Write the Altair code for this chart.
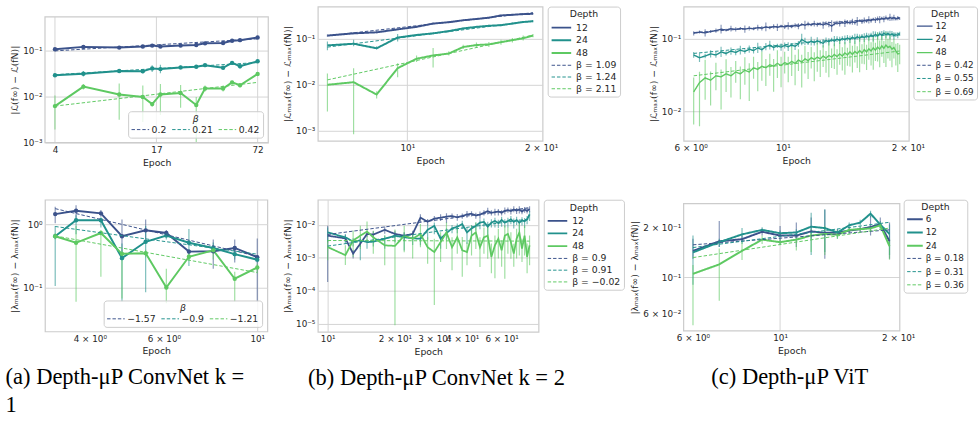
import math
import altair as alt
import pandas as pd

COLORS = ["#3b528b", "#21918c", "#5ec962"]
GRID = "#d4d4d4"
FRAME = "#cccccc"
TXT = "#262626"
FONT = "DejaVu Sans"

# ---------------- (a) ConvNet k=1, top: loss gap ----------------
A1_EPOCH = [4, 6, 10, 14, 16, 18, 24, 30, 34, 44, 50, 56, 72]
A1_NAMES = ["12", "24", "48"]
A1_B = [0.105, 0.118, 0.114, 0.120, 0.126, 0.120, 0.126, 0.130, 0.141, 0.143, 0.160, 0.165, 0.188]
A1_T = [0.0287, 0.031, 0.0354, 0.035, 0.0403, 0.039, 0.0424, 0.0437, 0.0474, 0.0417, 0.0531, 0.045, 0.0576]
A1_G = [0.00615, 0.01625, 0.011, 0.0097, 0.0068, 0.011, 0.0118, 0.0065, 0.0148, 0.0148, 0.0201, 0.0174, 0.0306]
A1_B_LO = [0.100, 0.110, 0.109, 0.114, 0.118, 0.114, 0.120, 0.124, 0.135, 0.137, 0.152, 0.158, 0.180]
A1_B_HI = [0.110, 0.126, 0.119, 0.126, 0.133, 0.127, 0.132, 0.136, 0.147, 0.149, 0.168, 0.172, 0.196]
A1_T_LO = [0.0269, 0.0269, 0.0327, 0.0316, 0.0338, 0.0316, 0.0384, 0.041, 0.0445, 0.0384, 0.0498, 0.0403, 0.0531]
A1_T_HI = [0.0311, 0.0354, 0.0384, 0.0384, 0.0474, 0.0482, 0.0467, 0.0467, 0.0506, 0.0452, 0.0568, 0.0506, 0.0625]
A1_G_LO = [0.00191, 0.0141, 0.00311, 0.00278, 0.00595, 0.00397, 0.00567, 0.001, 0.0128, 0.0128, 0.0185, 0.0157, 0.0287]
A1_G_HI = [0.0105, 0.0185, 0.0191, 0.0171, 0.0076, 0.0185, 0.0176, 0.0097, 0.0171, 0.0171, 0.0218, 0.0185, 0.0327]
A1_FIT_X = [4, 72]
A1_FIT_B = [0.0968, 0.1764]
A1_FIT_T = [0.0295, 0.054]
A1_FIT_G = [0.00616, 0.0201]
A1_BETAS = ["0.2", "0.21", "0.42"]

# ---------------- (a) ConvNet k=1, bottom: sharpness gap ----------------
A2_EPOCH = [3.31, 3.71, 4.25, 4.77, 5.43, 6.08, 6.88, 7.86, 8.84, 10.0]
A2_B = [1.46, 1.65, 1.50, 0.652, 0.808, 0.734, 0.373, 0.378, 0.426, 0.305]
A2_T = [0.652, 1.167, 1.167, 0.294, 0.533, 0.668, 0.514, 0.426, 0.34, 0.278]
A2_G = [0.652, 0.514, 0.734, 0.344, 0.352, 0.101, 0.309, 0.392, 0.139, 0.209]
A2_B_LO = [1.05, 1.18, 1.33, 0.32, 0.58, 0.65, 0.34, 0.20, 0.25, 0.06]
A2_B_HI = [1.90, 2.01, 1.69, 1.20, 1.20, 0.82, 0.41, 0.58, 0.58, 0.60]
A2_T_LO = [0.107, 0.70, 0.90, 0.06, 0.085, 0.58, 0.22, 0.36, 0.28, 0.25]
A2_T_HI = [0.95, 1.40, 1.30, 0.50, 0.95, 0.75, 0.85, 0.52, 0.40, 0.31]
A2_G_LO = [0.58, 0.06, 0.15, 0.068, 0.30, 0.057, 0.27, 0.28, 0.06, 0.17]
A2_G_HI = [0.73, 0.95, 0.82, 0.40, 0.40, 0.20, 0.36, 0.46, 0.18, 0.24]
A2_FIT_X = [3.31, 10.0]
A2_FIT_B = [1.78, 0.315]
A2_FIT_T = [0.93, 0.34]
A2_FIT_G = [0.66, 0.174]
A2_BETAS = ["\u22121.57", "\u22120.9", "\u22121.21"]

# ---------------- (b) ConvNet k=2, top ----------------
B1_EPOCH = [6.61, 7.57, 8.53, 9.51, 10.49, 11.43, 12.4, 13.36, 14.31, 15.26, 16.25, 17.24, 18.23, 19.18]
B1_B = [0.118, 0.132, 0.139, 0.161, 0.183, 0.216, 0.231, 0.255, 0.272, 0.290, 0.325, 0.336, 0.347, 0.353]
B1_T = [0.0721, 0.0782, 0.0622, 0.1068, 0.1217, 0.132, 0.148, 0.169, 0.183, 0.193, 0.199, 0.216, 0.234, 0.242]
B1_G = [0.00992, 0.0113, 0.00607, 0.0229, 0.0368, 0.0434, 0.0478, 0.0664, 0.0733, 0.0757, 0.0849, 0.0937, 0.103, 0.118]
B1_B_LO = [0.111, 0.126, 0.133, 0.154, 0.175, 0.207, 0.222, 0.245, 0.261, 0.279, 0.312, 0.323, 0.333, 0.339]
B1_B_HI = [0.125, 0.138, 0.145, 0.168, 0.191, 0.225, 0.240, 0.265, 0.283, 0.301, 0.338, 0.349, 0.361, 0.367]
B1_T_LO = [0.0563, 0.0686, 0.0582, 0.0877, 0.115, 0.125, 0.140, 0.160, 0.174, 0.183, 0.189, 0.205, 0.222, 0.230]
B1_T_HI = [0.0877, 0.0952, 0.0686, 0.128, 0.128, 0.139, 0.156, 0.178, 0.192, 0.203, 0.209, 0.227, 0.246, 0.254]
B1_G_LO = [0.00259, 0.00082, 0.005, 0.0145, 0.0313, 0.0237, 0.0434, 0.0602, 0.0664, 0.0664, 0.0744, 0.0835, 0.092, 0.108]
B1_G_HI = [0.0176, 0.0229, 0.00715, 0.0292, 0.0434, 0.0632, 0.0537, 0.0744, 0.0835, 0.0849, 0.0952, 0.105, 0.118, 0.128]
B1_FIT_X = [6.61, 19.18]
B1_FIT_B = [0.117, 0.373]
B1_FIT_T = [0.066, 0.247]
B1_FIT_G = [0.0127, 0.12]
B1_BETAS = ["\u03b2 = 1.09", "\u03b2 = 1.24", "\u03b2 = 2.11"]

# ---------------- (b) ConvNet k=2, bottom ----------------
B2_EPOCH = [10, 12, 13, 14, 15, 16, 18, 20, 22, 24, 26, 28, 30, 32, 34, 36, 38, 40, 42, 44,
            46, 48, 50, 52, 54, 56, 58, 60, 62, 64, 66, 68, 70, 72, 74, 76, 78, 80]
B2_B = [0.0047, 0.0039, 0.00135, 0.0027, 0.0053, 0.0051, 0.0071, 0.0053, 0.0047, 0.0053,
        0.0165, 0.0125, 0.0154, 0.0165, 0.0177, 0.0185, 0.0169, 0.0185, 0.0207, 0.0216,
        0.0193, 0.0202, 0.0232, 0.026, 0.0232, 0.0242, 0.0253, 0.0232, 0.0265, 0.0278,
        0.026, 0.0291, 0.027, 0.0291, 0.0253, 0.0291, 0.0265, 0.0305]
B2_T = [0.0059, 0.0042, 0.0031, 0.0034, 0.0030, 0.0031, 0.0038, 0.0047, 0.0042, 0.0039,
        0.0038, 0.0071, 0.0093, 0.0038, 0.0056, 0.0078, 0.0088, 0.0105, 0.0059, 0.0078,
        0.0093, 0.0117, 0.0123, 0.0088, 0.0117, 0.0131, 0.0113, 0.014, 0.0117, 0.0131,
        0.0147, 0.0123, 0.014, 0.0117, 0.0135, 0.0128, 0.0147, 0.0207]
B2_G = [0.00213, 0.00121, 0.00336, 0.0047, 0.0063, 0.0042, 0.0024, 0.0023, 0.0047, 0.0038,
        0.0053, 0.0021, 0.0015, 0.0030, 0.0059, 0.0021, 0.0042, 0.0017, 0.0015, 0.0047,
        0.0059, 0.0021, 0.0042, 0.0047, 0.00108, 0.0024, 0.0038, 0.0017, 0.0047, 0.0053,
        0.0030, 0.00135, 0.0038, 0.0059, 0.0019, 0.0047, 0.00108, 0.0024]
# error-bar extents in decades below / above each point
B2_B_DN = [1.4, 0.1, 0.15, 0.1, 0.1, 0.1, 0.12, 0.1, 0.15, 0.1, 0.15, 0.1, 0.08, 0.1, 0.2, 0.08, 0.1, 0.08, 0.1, 0.08,
           0.1, 0.12, 0.08, 0.1, 0.08, 0.1, 0.12, 0.08, 0.1, 0.08, 0.1, 0.08, 0.1, 0.12, 0.08, 0.1, 0.08, 0.1]
B2_B_UP = [0.3, 0.1, 0.1, 0.08, 0.1, 0.1, 0.1, 0.1, 0.1, 0.1, 0.1, 0.08, 0.08, 0.1, 0.1, 0.08, 0.1, 0.08, 0.1, 0.08,
           0.08, 0.1, 0.08, 0.1, 0.08, 0.1, 0.08, 0.08, 0.1, 0.08, 0.08, 0.1, 0.08, 0.1, 0.08, 0.08, 0.1, 0.08]
B2_T_DN = [0.3, 0.2, 0.15, 0.6, 0.2, 0.15, 0.3, 0.2, 0.4, 0.2, 0.2, 0.3, 0.25, 0.3, 0.2, 0.15, 0.2, 0.15, 0.35, 0.2,
           0.15, 0.2, 0.15, 0.25, 0.15, 0.2, 0.15, 0.2, 0.15, 0.2, 0.15, 0.2, 0.15, 0.25, 0.15, 0.2, 0.15, 0.2]
B2_T_UP = [0.15, 0.1, 0.1, 0.1, 0.1, 0.1, 0.1, 0.1, 0.15, 0.1, 0.1, 0.15, 0.1, 0.1, 0.15, 0.1, 0.1, 0.1, 0.15, 0.1,
           0.1, 0.1, 0.1, 0.15, 0.1, 0.1, 0.1, 0.1, 0.1, 0.1, 0.1, 0.1, 0.1, 0.1, 0.1, 0.1, 0.1, 0.1]
B2_G_DN = [0.4, 0.3, 0.5, 0.4, 0.3, 0.5, 0.6, 2.4, 0.5, 0.6, 0.4, 0.5, 1.6, 0.6, 0.5, 0.7, 0.5, 0.8, 0.4, 0.6,
           0.5, 0.6, 0.5, 0.7, 0.5, 1.0, 0.6, 0.5, 1.3, 0.6, 0.5, 0.4, 0.6, 0.7, 0.4, 0.6, 0.5, 0.6]
B2_G_UP = [0.2, 0.3, 0.3, 0.3, 0.3, 0.2, 0.3, 0.5, 0.3, 0.2, 0.3, 0.3, 0.4, 0.3, 0.3, 0.3, 0.3, 0.4, 0.3, 0.3,
           0.3, 0.3, 0.3, 0.3, 0.4, 0.3, 0.3, 0.3, 0.3, 0.2, 0.3, 0.3, 0.3, 0.3, 0.3, 0.3, 0.4, 0.3]
B2_FIT_X = [10, 80]
B2_FIT_B = [0.0051, 0.033]
B2_FIT_T = [0.00228, 0.0151]
B2_FIT_G = [0.00336, 0.00322]
B2_BETAS = ["\u03b2 = 0.9", "\u03b2 = 0.91", "\u03b2 = \u22120.02"]

# ---------------- (c) ViT, top ----------------
C1_EPOCH = [6.1, 6.3, 6.5, 6.7, 6.9, 7.1, 7.3, 7.5, 7.7, 7.9, 8.1, 8.3, 8.5, 8.7, 8.9, 9.1, 9.3, 9.5, 9.7, 9.9,
            10.1, 10.3, 10.5, 10.7, 10.9, 11.1, 11.3, 11.5, 11.7, 11.9, 12.1, 12.3, 12.5, 12.7, 12.9, 13.1, 13.3,
            13.5, 13.7, 13.9, 14.1, 14.3, 14.5, 14.7, 14.9, 15.1, 15.3, 15.5, 15.7, 15.9, 16.1, 16.3, 16.5, 16.7,
            16.9, 17.1, 17.3, 17.5, 17.7, 17.9, 18.1, 18.3, 18.5, 18.7, 18.9, 19.1]
C1_B = [0.119, 0.124, 0.121, 0.126, 0.130, 0.136, 0.132, 0.138, 0.135, 0.139, 0.136, 0.140, 0.137, 0.143, 0.140,
        0.146, 0.142, 0.148, 0.144, 0.149, 0.146, 0.151, 0.147, 0.153, 0.149, 0.158, 0.154, 0.160, 0.156, 0.162,
        0.157, 0.160, 0.155, 0.163, 0.158, 0.150, 0.160, 0.166, 0.162, 0.168, 0.164, 0.170, 0.165, 0.172, 0.167,
        0.174, 0.178, 0.172, 0.180, 0.175, 0.183, 0.178, 0.186, 0.181, 0.189, 0.184, 0.192, 0.186, 0.195, 0.188,
        0.198, 0.190, 0.196, 0.188, 0.193, 0.190]
C1_T = [0.060, 0.055, 0.058, 0.062, 0.060, 0.066, 0.063, 0.068, 0.065, 0.070, 0.067, 0.072, 0.069, 0.075, 0.071,
        0.078, 0.082, 0.076, 0.080, 0.077, 0.081, 0.078, 0.082, 0.079, 0.085, 0.098, 0.092, 0.088, 0.093, 0.089,
        0.094, 0.090, 0.087, 0.095, 0.091, 0.097, 0.093, 0.099, 0.095, 0.101, 0.097, 0.103, 0.098, 0.105, 0.100,
        0.107, 0.102, 0.109, 0.104, 0.111, 0.106, 0.113, 0.108, 0.115, 0.110, 0.118, 0.112, 0.120, 0.114, 0.119,
        0.113, 0.117, 0.110, 0.114, 0.112, 0.117]
C1_G = [0.0186, 0.025, 0.029, 0.027, 0.031, 0.030, 0.033, 0.031, 0.035, 0.033, 0.037, 0.035, 0.040, 0.038, 0.042,
        0.040, 0.044, 0.042, 0.046, 0.043, 0.047, 0.045, 0.049, 0.046, 0.051, 0.048, 0.053, 0.050, 0.055, 0.052,
        0.056, 0.053, 0.058, 0.054, 0.059, 0.056, 0.061, 0.057, 0.062, 0.058, 0.064, 0.060, 0.066, 0.061, 0.067,
        0.063, 0.069, 0.064, 0.071, 0.066, 0.073, 0.068, 0.075, 0.070, 0.077, 0.072, 0.080, 0.074, 0.082, 0.076,
        0.079, 0.072, 0.076, 0.068, 0.062, 0.063]
C1_B_E = [0.03, 0.02, 0.05, 0.02, 0.03, 0.06, 0.02, 0.04, 0.03, 0.02, 0.05, 0.03, 0.02, 0.04, 0.03, 0.06, 0.02,
          0.03, 0.05, 0.02, 0.03, 0.05, 0.02, 0.03, 0.04, 0.02, 0.06, 0.03, 0.02, 0.04, 0.03, 0.02, 0.05, 0.03,
          0.04, 0.08, 0.02, 0.03, 0.04, 0.02, 0.05, 0.03, 0.02, 0.04, 0.03, 0.06, 0.02, 0.03, 0.04, 0.02, 0.05,
          0.03, 0.02, 0.04, 0.03, 0.05, 0.02, 0.04, 0.03, 0.02, 0.05, 0.03, 0.04, 0.02, 0.03, 0.02]
C1_T_E = [0.04, 0.06, 0.03, 0.05, 0.04, 0.07, 0.03, 0.05, 0.04, 0.06, 0.03, 0.05, 0.04, 0.07, 0.03, 0.05, 0.06,
          0.04, 0.03, 0.05, 0.04, 0.06, 0.03, 0.05, 0.04, 0.08, 0.05, 0.03, 0.06, 0.04, 0.05, 0.03, 0.06, 0.04,
          0.05, 0.03, 0.07, 0.04, 0.05, 0.03, 0.06, 0.04, 0.05, 0.03, 0.07, 0.04, 0.05, 0.03, 0.06, 0.04, 0.05,
          0.03, 0.07, 0.04, 0.05, 0.03, 0.06, 0.04, 0.05, 0.03, 0.06, 0.04, 0.05, 0.03, 0.04, 0.03]
C1_G_DN = [0.45, 0.6, 0.3, 0.35, 0.2, 0.45, 0.25, 0.3, 0.15, 0.35, 0.2, 0.4, 0.15, 0.3, 0.2, 0.25, 0.15, 0.35,
           0.2, 0.3, 0.15, 0.25, 0.2, 0.3, 0.15, 0.35, 0.2, 0.25, 0.15, 0.3, 0.2, 0.25, 0.15, 0.2, 0.3, 0.15,
           0.2, 0.25, 0.15, 0.2, 0.3, 0.15, 0.2, 0.25, 0.15, 0.2, 0.3, 0.15, 0.2, 0.25, 0.15, 0.2, 0.3, 0.15,
           0.2, 0.25, 0.15, 0.2, 0.3, 0.15, 0.2, 0.25, 0.15, 0.2, 0.25, 0.15]
C1_G_UP = [0.2, 0.15, 0.25, 0.12, 0.18, 0.1, 0.2, 0.12, 0.15, 0.1, 0.18, 0.12, 0.15, 0.1, 0.2, 0.12, 0.15, 0.1,
           0.18, 0.12, 0.15, 0.1, 0.2, 0.12, 0.15, 0.1, 0.18, 0.12, 0.15, 0.1, 0.2, 0.12, 0.15, 0.1, 0.18, 0.12,
           0.15, 0.1, 0.2, 0.12, 0.15, 0.1, 0.18, 0.12, 0.15, 0.1, 0.2, 0.12, 0.15, 0.1, 0.18, 0.12, 0.15, 0.1,
           0.2, 0.12, 0.15, 0.1, 0.18, 0.12, 0.15, 0.1, 0.12, 0.1, 0.15, 0.12]
C1_FIT_X = [6.1, 19.1]
C1_FIT_B = [0.122, 0.197]
C1_FIT_T = [0.063, 0.118]
C1_FIT_G = [0.031, 0.068]
C1_BETAS = ["\u03b2 = 0.42", "\u03b2 = 0.55", "\u03b2 = 0.69"]

# ---------------- (c) ViT, bottom ----------------
C2_EPOCH = [6, 7, 8, 9, 10, 11, 12, 13, 14, 15, 16, 17, 18, 19]
C2_NAMES = ["6", "12", "24"]
C2_B = [0.145, 0.166, 0.171, 0.190, 0.180, 0.180, 0.191, 0.187, 0.188, 0.193, 0.197, 0.203, 0.211, 0.166]
C2_T = [0.142, 0.164, 0.183, 0.195, 0.186, 0.188, 0.204, 0.200, 0.188, 0.208, 0.216, 0.245, 0.210, 0.184]
C2_G = [0.105, 0.120, 0.145, 0.170, 0.164, 0.170, 0.180, 0.184, 0.182, 0.195, 0.197, 0.199, 0.208, 0.155]
C2_B_LO = [0.13, 0.153, 0.164, 0.18, 0.16, 0.153, 0.172, 0.13, 0.18, 0.185, 0.19, 0.18, 0.199, 0.13]
C2_B_HI = [0.172, 0.221, 0.18, 0.199, 0.206, 0.216, 0.232, 0.26, 0.197, 0.202, 0.205, 0.237, 0.232, 0.216]
C2_T_LO = [0.09, 0.153, 0.16, 0.19, 0.18, 0.18, 0.137, 0.143, 0.172, 0.199, 0.208, 0.232, 0.199, 0.137]
C2_T_HI = [0.18, 0.172, 0.2, 0.202, 0.193, 0.197, 0.248, 0.26, 0.197, 0.216, 0.225, 0.255, 0.221, 0.21]
C2_G_LO = [0.051, 0.072, 0.1275, 0.16, 0.157, 0.146, 0.143, 0.137, 0.172, 0.188, 0.19, 0.19, 0.2, 0.128]
C2_G_HI = [0.119, 0.15, 0.164, 0.18, 0.172, 0.18, 0.197, 0.206, 0.193, 0.201, 0.204, 0.206, 0.216, 0.172]
C2_FIT_X = [6, 19]
C2_FIT_B = [0.158, 0.195]
C2_FIT_T = [0.152, 0.217]
C2_FIT_G = [0.132, 0.200]
C2_BETAS = ["\u03b2 = 0.18", "\u03b2 = 0.31", "\u03b2 = 0.36"]

YT_L = "|\u2112(f\u221e) \u2212 \u2112(fN)|"
YT_LMAX = "|\u2112\u2098\u2090\u2093(f\u221e) \u2212 \u2112\u2098\u2090\u2093(fN)|"
YT_LAM = "|\u03bb\u2098\u2090\u2093(f\u221e) \u2212 \u03bb\u2098\u2090\u2093(fN)|"

CAP_FONT = "Liberation Serif"
CHANNELS = dict(color="independent", stroke="independent", fill="independent",
                strokeDash="independent", strokeWidth="independent")


def dec_bounds(vals, dn, up):
    lo = [v * 10 ** (-d) for v, d in zip(vals, dn)]
    hi = [v * 10 ** (u) for v, u in zip(vals, up)]
    return lo, hi


def lbl_expr(vals, labels):
    expr = repr(labels[-1])
    for i in range(len(vals) - 2, -1, -1):
        mid = math.sqrt(vals[i] * vals[i + 1])
        expr = f"datum.value < {mid:.10g} ? {labels[i]!r} : ({expr})"
    return expr


def grid_color(vals):
    if vals is None:
        return GRID
    test = " || ".join(f"abs(datum.value / {v} - 1) < 1e-6" for v in vals)
    return {"condition": {"test": test, "value": GRID}, "value": "rgba(0,0,0,0)"}


def panel(epochs, names, vals, los, his, fx, fvals, flabels, xdom, ydom,
          xt, xl, xg, yt, yl, yg, ytitle, w, h, lw, markers, legend, merged,
          title=None, top_pad=0.0):
    rows = []
    for n, v, lo, hi in zip(names, vals, los, his):
        for e, y, l, u in zip(epochs, v, lo, hi):
            rows.append(dict(epoch=e, val=y, lo=l, hi=u, name=n))
    df = pd.DataFrame(rows)
    frows = []
    for lab, fv in zip(flabels, fvals):
        for e, y in zip(fx, fv):
            frows.append(dict(epoch=e, val=y, name=lab))
    fdf = pd.DataFrame(frows)

    # optional empty band above the frame (so a panel can start lower than its row)
    ytop = ydom[1] * 10 ** (math.log10(ydom[1] / ydom[0]) * top_pad / h)
    xs = alt.Scale(type="log", domain=xdom, nice=False)
    ys = alt.Scale(type="log", domain=[ydom[0], ytop], nice=False)
    if top_pad > 0:
        xax = alt.Axis(title="Epoch", values=xt, labelExpr=lbl_expr(xt, xl), grid=False)
        yax = alt.Axis(title=ytitle, values=yt, labelExpr=lbl_expr(yt, yl), gridColor=grid_color(yg),
                       titleY=top_pad + h / 2)
    else:
        xax = alt.Axis(title="Epoch", values=xt, labelExpr=lbl_expr(xt, xl), gridColor=grid_color(xg))
        yax = alt.Axis(title=ytitle, values=yt, labelExpr=lbl_expr(yt, yl), gridColor=grid_color(yg))
    X = alt.X("epoch:Q", scale=xs, axis=xax)
    Y = alt.Y("val:Q", scale=ys, axis=yax)

    layers = []
    if top_pad > 0:
        gx = xg if xg is not None else xt
        gdf = pd.DataFrame({"epoch": gx, "lo": [ydom[0]] * len(gx), "hi": [ydom[1]] * len(gx)})
        layers.append(alt.Chart(gdf).mark_rule(color=GRID, strokeWidth=1).encode(
            x=X, y=alt.Y("lo:Q", scale=ys, axis=yax), y2="hi:Q"))

    layers.append(alt.Chart(df).mark_rule(strokeWidth=1.2, strokeOpacity=0.6, clip=True).encode(
        x=X, y=alt.Y("lo:Q", scale=ys, axis=yax), y2="hi:Q",
        stroke=alt.Stroke("name:N", scale=alt.Scale(domain=names, range=COLORS), legend=None)))

    if merged:
        dom = names + flabels
        col = alt.Color("name:N", scale=alt.Scale(domain=dom, range=COLORS + COLORS), legend=legend)
        dash = alt.StrokeDash("name:N", scale=alt.Scale(domain=dom, range=[[1, 0]] * 3 + [[3.5, 2]] * 3),
                              legend=legend)
        sw = alt.StrokeWidth("name:N", scale=alt.Scale(type="ordinal", domain=dom, range=[lw] * 3 + [1] * 3),
                             legend=legend)
        lines = alt.Chart(df).mark_line(clip=True).encode(x=X, y=Y, color=col, strokeDash=dash, strokeWidth=sw)
        fits = alt.Chart(fdf).mark_line(clip=True).encode(x=X, y=Y, color=col, strokeDash=dash, strokeWidth=sw)
    else:
        lines = alt.Chart(df).mark_line(clip=True, strokeWidth=lw).encode(
            x=X, y=Y, stroke=alt.Stroke("name:N", scale=alt.Scale(domain=names, range=COLORS), legend=None))
        fits = alt.Chart(fdf).mark_line(clip=True, strokeWidth=1, strokeDash=[3.5, 2]).encode(
            x=X, y=Y, color=alt.Color("name:N", scale=alt.Scale(domain=flabels, range=COLORS), legend=legend))
    layers.append(lines)
    if markers:
        layers.append(alt.Chart(df).mark_circle(size=20, opacity=1, clip=True).encode(
            x=X, y=Y, fill=alt.Fill("name:N", scale=alt.Scale(domain=names, range=COLORS), legend=None)))
    layers.append(fits)

    if top_pad > 0:
        fr = pd.DataFrame({"x1": [xdom[0]], "x2": [xdom[1]], "y1": [ydom[0]], "y2": [ydom[1]]})
        layers.append(alt.Chart(fr).mark_rect(fillOpacity=0, stroke=FRAME, strokeWidth=1.25).encode(
            x=alt.X("x1:Q", scale=xs, axis=xax), x2="x2:Q",
            y=alt.Y("y1:Q", scale=ys, axis=yax), y2="y2:Q"))

    ch = alt.layer(*layers).properties(width=w, height=h + top_pad)
    if top_pad > 0:
        ch = ch.properties(view=alt.ViewBackground(stroke="transparent"))
    if title is not None:
        ch = ch.properties(title=title)
    return ch


def leg_depth(compact=False):
    if compact:
        return alt.Legend(title="Depth", orient="right", offset=4, titleAnchor="middle",
                          symbolType="M-1,0H3", symbolSize=64, labelOffset=10, rowPadding=3.5,
                          titlePadding=3, labelFontSize=9, titleFontSize=9.5, padding=2.5)
    return alt.Legend(title="Depth", orient="right", offset=5, titleAnchor="middle",
                      symbolType="M-1,0H3", symbolSize=100, labelOffset=14, rowPadding=2,
                      titlePadding=3)


def leg_beta():
    return alt.Legend(title="\u03b2", orient="bottom-right", direction="horizontal", offset=5,
                      titleAnchor="middle", titleFontStyle="italic", symbolType="M-1,0H3",
                      symbolSize=81, symbolDash=[3.5, 2], symbolStrokeWidth=1, labelOffset=11,
                      columnPadding=2.5, titlePadding=1)


def caption(lines, dx):
    return alt.TitleParams(text=lines, orient="bottom", anchor="start", frame="group", dx=dx,
                           offset=11.5, font=CAP_FONT, fontSize=23, fontWeight="normal",
                           color="black", lineHeight=28)


def sp(w, h):
    return alt.Chart(pd.DataFrame({"v": [1]})).mark_point(opacity=0, size=1).encode(
        x=alt.X("v:Q", axis=None), y=alt.Y("v:Q", axis=None)
    ).properties(width=w, height=h, view=alt.ViewBackground(stroke="transparent"))


DEC3 = ["10\u207b\u00b3", "10\u207b\u00b2", "10\u207b\u00b9"]

a_top = panel(A1_EPOCH, A1_NAMES, [A1_B, A1_T, A1_G], [A1_B_LO, A1_T_LO, A1_G_LO],
              [A1_B_HI, A1_T_HI, A1_G_HI], A1_FIT_X, [A1_FIT_B, A1_FIT_T, A1_FIT_G], A1_BETAS,
              [3.47, 83.8], [1e-3, 0.525], [4, 17, 72], ["4", "17", "72"], None,
              [1e-3, 1e-2, 1e-1], DEC3, None, YT_L, 228.3, 128.4, 2, True, leg_beta(), False,
              top_pad=10.6)

a_bot = panel(A2_EPOCH, A1_NAMES, [A2_B, A2_T, A2_G], [A2_B_LO, A2_T_LO, A2_G_LO],
              [A2_B_HI, A2_T_HI, A2_G_HI], A2_FIT_X, [A2_FIT_B, A2_FIT_T, A2_FIT_G], A2_BETAS,
              [3.13, 10.57], [0.0204, 2.46], [4, 6, 10],
              ["4 \u00d7 10\u2070", "6 \u00d7 10\u2070", "10\u00b9"], [10],
              [0.1, 1], ["10\u207b\u00b9", "10\u2070"], None, YT_LAM, 227.4, 134.7, 2, True, leg_beta(),
              False, title=caption(["(a) Depth-\u03bcP ConvNet k =", "1"], -40.3))

b_top = panel(B1_EPOCH, A1_NAMES, [B1_B, B1_T, B1_G], [B1_B_LO, B1_T_LO, B1_G_LO],
              [B1_B_HI, B1_T_HI, B1_G_HI], B1_FIT_X, [B1_FIT_B, B1_FIT_T, B1_FIT_G], B1_BETAS,
              [6.29, 20.16], [5.9e-4, 0.507], [10, 20], ["10\u00b9", "2 \u00d7 10\u00b9"], [10],
              [1e-3, 1e-2, 1e-1], DEC3, None, YT_LMAX, 229.8, 137.3, 2, False, leg_depth(), True)

bb_lo, bb_hi = dec_bounds(B2_B, B2_B_DN, B2_B_UP)
bt_lo, bt_hi = dec_bounds(B2_T, B2_T_DN, B2_T_UP)
bg_lo, bg_hi = dec_bounds(B2_G, B2_G_DN, B2_G_UP)
b_bot = panel(B2_EPOCH, A1_NAMES, [B2_B, B2_T, B2_G], [bb_lo, bt_lo, bg_lo], [bb_hi, bt_hi, bg_hi],
              B2_FIT_X, [B2_FIT_B, B2_FIT_T, B2_FIT_G], B2_BETAS,
              [9.04, 87.8], [5.8e-6, 0.0575], [10, 20, 30, 40, 60],
              ["10\u00b9", "2 \u00d7 10\u00b9", "3 \u00d7 10\u00b9", "4 \u00d7 10\u00b9", "6 \u00d7 10\u00b9"], [10],
              [1e-5, 1e-4, 1e-3, 1e-2], ["10\u207b\u2075", "10\u207b\u2074", "10\u207b\u00b3", "10\u207b\u00b2"],
              None, YT_LAM, 225.7, 135, 1.8, False, leg_depth(), True,
              title=caption(["(b) Depth-\u03bcP ConvNet k = 2"], -10))

cb_lo, cb_hi = dec_bounds(C1_B, C1_B_E, C1_B_E)
ct_lo, ct_hi = dec_bounds(C1_T, C1_T_E, C1_T_E)
cg_lo, cg_hi = dec_bounds(C1_G, C1_G_DN, C1_G_UP)
c_top = panel(C1_EPOCH, A1_NAMES, [C1_B, C1_T, C1_G], [cb_lo, ct_lo, cg_lo], [cb_hi, ct_hi, cg_hi],
              C1_FIT_X, [C1_FIT_B, C1_FIT_T, C1_FIT_G], C1_BETAS,
              [5.77, 20.1], [0.00394, 0.278], [6, 10, 20],
              ["6 \u00d7 10\u2070", "10\u00b9", "2 \u00d7 10\u00b9"], [10],
              [0.01, 0.1], ["10\u207b\u00b2", "10\u207b\u00b9"], None, YT_LMAX, 230.3, 137.3, 1.4, False,
              leg_depth(True), True)

c_bot = panel(C2_EPOCH, C2_NAMES, [C2_B, C2_T, C2_G], [C2_B_LO, C2_T_LO, C2_G_LO],
              [C2_B_HI, C2_T_HI, C2_G_HI], C2_FIT_X, [C2_FIT_B, C2_FIT_T, C2_FIT_G], C2_BETAS,
              [5.68, 20.18], [0.0471, 0.282], [6, 10, 20],
              ["6 \u00d7 10\u2070", "10\u00b9", "2 \u00d7 10\u00b9"], [10],
              [0.06, 0.1, 0.2], ["6 \u00d7 10\u207b\u00b2", "10\u207b\u00b9", "2 \u00d7 10\u207b\u00b9"], [0.1],
              YT_LAM, 221, 130, 2, False, leg_depth(True), True,
              title=caption(["(c) Depth-\u03bcP ViT"], 28.3), top_pad=4.0)

T = 0.01
cells = [
    sp(2.4, T), a_top, sp(49.7, T), b_top, sp(125.2, T), c_top,
    sp(T, T), a_bot, sp(48.3, T), b_bot, sp(144.0, T), c_bot,
]

chart = alt.concat(*cells, columns=6, spacing={"row": 58.5, "column": 0}, bounds="flush",
                   align={"row": "all", "column": "none"}).resolve_scale(
    x="independent", y="independent", **CHANNELS
).resolve_legend(**CHANNELS).properties(
    padding={"left": 5, "top": 0, "right": 0, "bottom": 0}
).configure(
    font=FONT, background="white"
).configure_view(
    stroke=FRAME, strokeWidth=1.25
).configure_axis(
    labelFont=FONT, labelFontSize=9, labelColor=TXT, titleFont=FONT, titleFontSize=9.5,
    titleColor=TXT, titleFontWeight="normal", ticks=False, domain=False, labelPadding=3,
    titlePadding=3, gridColor=GRID, gridWidth=1, labelFlush=False, labelOverlap=False
).configure_legend(
    titleFont=FONT, labelFont=FONT, titleFontSize=9.5, labelFontSize=9.5, titleColor=TXT,
    labelColor=TXT, titleFontWeight="normal", strokeColor=FRAME,
    fillColor="rgba(255,255,255,0.8)", cornerRadius=3, padding=3
)

chart.save("out.html", embed_options={"renderer": "svg", "actions": False})
